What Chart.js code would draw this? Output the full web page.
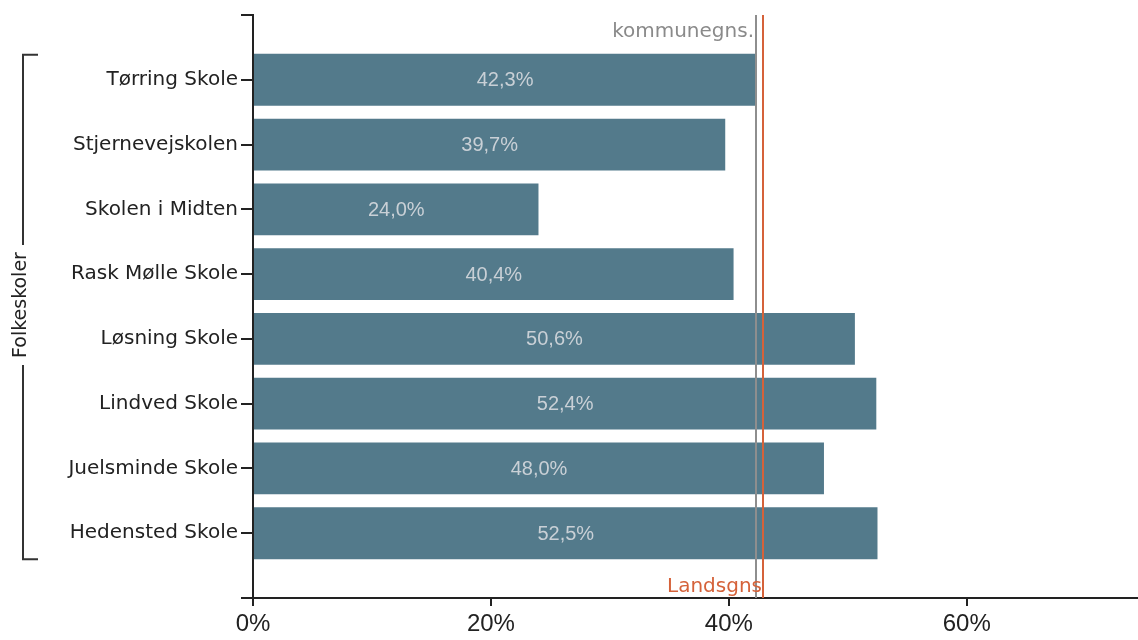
<!DOCTYPE html>
<html>
<head>
<meta charset="utf-8">
<script src="https://cdn.jsdelivr.net/npm/chart.js@4"></script>
<style>
  html, body { margin: 0; padding: 0; background: #fff; }
  #wrap { width: 1138px; height: 640px; }
</style>
</head>
<body>
<div id="wrap"><canvas id="schoolChart"></canvas></div>
<script>
// data
const schools = ['Tørring Skole', 'Stjernevejskolen', 'Skolen i Midten', 'Rask Mølle Skole',
                 'Løsning Skole', 'Lindved Skole', 'Juelsminde Skole', 'Hedensted Skole'];
const shares = [42.3, 39.7, 24.0, 40.4, 50.6, 52.4, 48.0, 52.5];
const kommuneAvg = 42.3;
const landsAvg = 42.9;
const xTicks = [0, 20, 40, 60];
const groupLabel = 'Folkeskoler';
const kommuneLabel = 'kommunegns.';
const landsLabel = 'Landsgns';

// empty slot at top and bottom so the axis runs past the bars
const labels = [''].concat(schools, ['']);
const values = [null].concat(shares, [null]);

const fmt = v => v.toFixed(1).replace('.', ',') + '%';

// value text in the middle of each bar
const barLabels = {
    id: 'barLabels',
    afterDatasetsDraw(chart) {
        const c = chart.ctx;
        const meta = chart.getDatasetMeta(0);
        c.save();
        c.font = '20px "Liberation Sans", Arial, sans-serif';
        c.fillStyle = '#c9d0d6';
        c.textAlign = 'center';
        c.textBaseline = 'middle';
        meta.data.forEach((bar, i) => {
            if (values[i] == null) return;
            c.fillText(fmt(values[i]), (bar.x + bar.base) / 2, bar.y + 1);
        });
        c.restore();
    }
};

// average lines + bracket for the group
const extras = {
    id: 'extras',
    afterDraw(chart) {
        const c = chart.ctx;
        const x = chart.scales.x, y = chart.scales.y;
        const top = chart.chartArea.top, bottom = chart.chartArea.bottom;
        c.save();

        const kx = Math.round(x.getPixelForValue(kommuneAvg));
        c.strokeStyle = '#8e8e8e';
        c.lineWidth = 2;
        c.beginPath(); c.moveTo(kx, top); c.lineTo(kx, bottom); c.stroke();

        const lx = Math.round(x.getPixelForValue(landsAvg));
        c.strokeStyle = '#d5623a';
        c.beginPath(); c.moveTo(lx, top); c.lineTo(lx, bottom); c.stroke();

        c.font = '20px "DejaVu Sans", sans-serif';
        c.textAlign = 'right';
        c.textBaseline = 'alphabetic';
        c.fillStyle = '#8a8a8a';
        c.fillText(kommuneLabel, kx - 2, 37);
        c.fillStyle = '#d5623a';
        c.fillText(landsLabel, lx - 1, 592);

        // bracket
        const bTop = y.getPixelForValue(1) - 25;
        const bBot = y.getPixelForValue(schools.length) + 26;
        const mid = (bTop + bBot) / 2;
        c.strokeStyle = '#333';
        c.lineWidth = 2;
        c.beginPath();
        c.moveTo(38, bTop); c.lineTo(23, bTop); c.lineTo(23, mid - 62);
        c.moveTo(23, mid + 58); c.lineTo(23, bBot); c.lineTo(38, bBot);
        c.stroke();

        c.translate(21, mid - 2);
        c.rotate(-Math.PI / 2);
        c.fillStyle = '#222';
        c.textAlign = 'center';
        c.textBaseline = 'middle';
        c.font = '19px "DejaVu Sans", sans-serif';
        c.fillText(groupLabel, 0, 0);
        c.restore();
    }
};

Chart.defaults.font.family = '"DejaVu Sans", sans-serif';

const ctx = document.getElementById('schoolChart').getContext('2d');
const schoolChart = new Chart(ctx, {
    type: 'bar',
    data: {
        labels: labels,
        datasets: [{
            data: values,
            backgroundColor: '#537a8b',
            borderWidth: 0,
            categoryPercentage: 1,
            barPercentage: 0.8
        }]
    },
    options: {
        indexAxis: 'y',
        responsive: true,
        maintainAspectRatio: false,
        animation: false,
        layout: { padding: { top: 15, left: 0, right: 0, bottom: 0 } },
        plugins: { legend: { display: false }, tooltip: { enabled: false } },
        scales: {
            x: {
                type: 'linear',
                min: 0,
                max: 74.4,
                afterBuildTicks: s => { s.ticks = xTicks.map(v => ({ value: v })); },
                afterFit: s => { s.height = 42; },
                ticks: {
                    color: '#222',
                    font: { family: '"Liberation Sans", Arial, sans-serif', size: 24 },
                    padding: 4,
                    callback: v => v + '%'
                },
                grid: { drawOnChartArea: false, tickLength: 8, color: '#222', lineWidth: 2 },
                border: { color: '#222', width: 2 }
            },
            y: {
                offset: false,
                afterFit: s => { s.width = 253; },
                ticks: { color: '#222', font: { size: 20 }, padding: 3, autoSkip: false },
                grid: { offset: false, drawOnChartArea: false, tickLength: 12, color: '#222', lineWidth: 2 },
                border: { color: '#222', width: 2 }
            }
        }
    },
    plugins: [barLabels, extras]
});
</script>
</body>
</html>
